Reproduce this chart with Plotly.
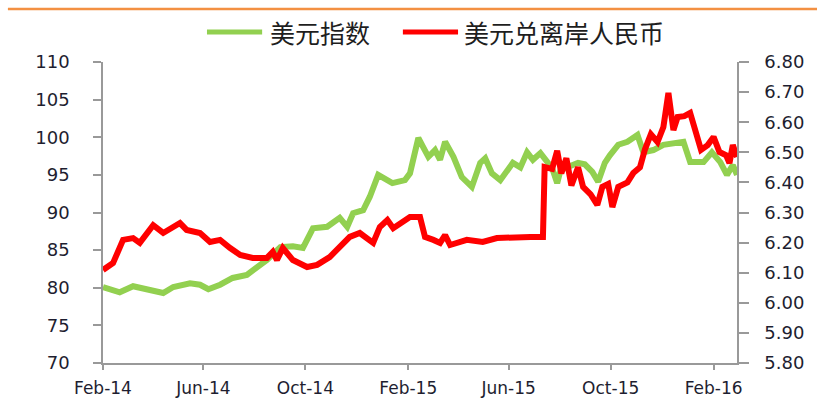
import plotly.graph_objects as go

# ---- data ----
dxy_dates = ["2014-02-01","2014-02-21","2014-03-09","2014-03-29","2014-04-14","2014-04-26","2014-05-16",
             "2014-05-28","2014-06-07","2014-06-21","2014-07-06","2014-07-23","2014-08-04","2014-08-16",
             "2014-09-01","2014-09-16","2014-09-28","2014-10-10","2014-10-27","2014-11-11","2014-11-20",
             "2014-11-27","2014-12-09","2014-12-17","2014-12-27","2015-01-13","2015-01-28","2015-02-03",
             "2015-02-13","2015-02-25","2015-03-05","2015-03-11","2015-03-17","2015-03-27","2015-04-06",
             "2015-04-18","2015-04-28","2015-05-04","2015-05-12","2015-05-22","2015-06-06","2015-06-15",
             "2015-06-23","2015-06-30","2015-07-09","2015-07-18","2015-07-23","2015-07-29","2015-08-02",
             "2015-08-10","2015-08-23","2015-08-31","2015-09-09","2015-09-16","2015-09-24","2015-09-30",
             "2015-10-10","2015-10-21","2015-11-02","2015-11-09","2015-11-21","2015-12-03","2015-12-11",
             "2015-12-27","2016-01-04","2016-01-20","2016-01-30","2016-02-09","2016-02-17","2016-02-24",
             "2016-02-29"]
dxy_values = [80.1,79.4,80.2,79.8,79.3,80.1,80.6,
              80.4,79.8,80.4,81.3,81.7,82.6,83.7,
              85.4,85.5,85.3,87.9,88.1,89.3,88.1,
              89.9,90.3,92.1,95.0,93.9,94.3,95.2,
              99.9,97.4,98.3,97.0,99.4,97.4,94.7,
              93.4,96.6,97.2,95.2,94.3,96.6,96.0,
              98.0,97.0,97.9,96.7,95.9,93.9,95.6,
              96.0,96.6,96.4,95.4,94.1,96.6,97.6,
              99.0,99.4,100.3,98.0,98.3,99.0,99.2,
              99.4,96.7,96.7,98.0,96.7,95.0,96.3,
              95.0]

cnh_dates = ["2014-02-01","2014-02-13","2014-02-25","2014-03-09","2014-03-17","2014-04-02","2014-04-14",
             "2014-05-04","2014-05-12","2014-05-28","2014-06-09","2014-06-21","2014-07-03","2014-07-15",
             "2014-07-30","2014-08-16","2014-08-23","2014-08-28","2014-09-04","2014-09-16","2014-10-03",
             "2014-10-15","2014-10-30","2014-11-15","2014-11-23","2014-12-05","2014-12-21","2014-12-29",
             "2015-01-07","2015-01-14","2015-01-22","2015-02-03","2015-02-15","2015-02-21","2015-03-03",
             "2015-03-11","2015-03-17","2015-03-23","2015-04-12","2015-05-01","2015-05-18","2015-06-06",
             "2015-06-27","2015-07-12","2015-07-14","2015-07-23","2015-07-29","2015-08-03","2015-08-09",
             "2015-08-15","2015-08-23","2015-08-29","2015-09-07","2015-09-15","2015-09-21","2015-09-28",
             "2015-10-03","2015-10-10","2015-10-21","2015-10-28","2015-11-05","2015-11-11","2015-11-18",
             "2015-11-26","2015-12-03","2015-12-09","2015-12-15","2015-12-20","2015-12-28","2016-01-04",
             "2016-01-09","2016-01-17","2016-01-25","2016-02-01","2016-02-08","2016-02-16","2016-02-20",
             "2016-02-24","2016-02-29"]
cnh_values = [6.109,6.132,6.209,6.215,6.199,6.258,6.232,
              6.265,6.242,6.232,6.202,6.209,6.182,6.159,
              6.149,6.149,6.169,6.142,6.182,6.142,6.119,
              6.126,6.152,6.199,6.219,6.232,6.199,6.252,
              6.275,6.248,6.265,6.285,6.285,6.219,6.209,
              6.199,6.225,6.192,6.209,6.202,6.215,6.219,
              6.219,6.219,6.451,6.445,6.505,6.430,6.480,
              6.390,6.450,6.385,6.360,6.325,6.385,6.395,
              6.318,6.385,6.400,6.431,6.450,6.510,6.560,
              6.534,6.584,6.697,6.574,6.617,6.620,6.631,
              6.584,6.508,6.524,6.551,6.501,6.490,6.464,
              6.524,6.484]

series_names = ["美元指数", "美元兑离岸人民币"]
series_colors = ["#92d050", "#ff0000"]

x_tick_vals = ["2014-02-01","2014-06-01","2014-10-01","2015-02-01","2015-06-01","2015-10-01","2016-02-01"]
x_tick_text = ["Feb-14","Jun-14","Oct-14","Feb-15","Jun-15","Oct-15","Feb-16"]

# ---- figure ----
fig = go.Figure()
fig.add_trace(go.Scatter(x=dxy_dates, y=dxy_values, name=series_names[0], mode="lines",
                         line=dict(color=series_colors[0], width=6), yaxis="y", showlegend=False))
fig.add_trace(go.Scatter(x=cnh_dates, y=cnh_values, name=series_names[1], mode="lines",
                         line=dict(color=series_colors[1], width=6), yaxis="y2", showlegend=False))

axis_color = "#999999"
tick_font = dict(family="DejaVu Sans", size=18, color="#1e1e30")

fig.update_layout(
    width=817, height=416,
    margin=dict(l=103, r=80, t=62, b=53),
    paper_bgcolor="white", plot_bgcolor="white",
    xaxis=dict(type="date", range=["2014-02-01", "2016-02-29"],
               tickvals=x_tick_vals, ticktext=x_tick_text,
               showgrid=False, zeroline=False, showline=True, linecolor=axis_color, linewidth=1.5,
               ticks="outside", ticklen=5, tickcolor=axis_color, tickwidth=1.5,
               tickfont=dict(family="DejaVu Sans", size=17, color="#1e1e30"), ticklabelstandoff=4),
    yaxis=dict(range=[70, 110], dtick=5, tick0=70, showgrid=False, zeroline=False,
               showline=True, linecolor=axis_color, linewidth=1.5,
               ticks="outside", ticklen=8, tickcolor=axis_color, tickwidth=1.5,
               tickfont=tick_font, ticklabelstandoff=20),
    yaxis2=dict(range=[5.8, 6.8], dtick=0.1, tick0=5.8, tickformat=".2f", overlaying="y", side="right",
                showgrid=False, zeroline=False, showline=True, linecolor=axis_color, linewidth=1.5,
                ticks="outside", ticklen=10, tickcolor=axis_color, tickwidth=1.5,
                tickfont=tick_font, ticklabelstandoff=12),
)

# top orange rule
fig.add_shape(type="line", xref="paper", yref="paper", x0=-0.15, x1=1.13, y0=1.176, y1=1.176,
              line=dict(color="#f39042", width=2.5))

# manual legend
legend_y = 1.0997
legend_items = [(0.164, 0.251, 0.260), (0.473, 0.560, 0.566)]
for (lx0, lx1, tx), name, color in zip(legend_items, series_names, series_colors):
    fig.add_shape(type="line", xref="paper", yref="paper", x0=lx0, x1=lx1, y0=legend_y, y1=legend_y,
                  line=dict(color=color, width=5))
    fig.add_annotation(xref="paper", yref="paper", x=tx, y=legend_y, text=name, showarrow=False,
                       xanchor="left", yanchor="middle",
                       font=dict(family="Noto Sans CJK SC", size=25, color="#1e1e1e"))

fig.write_html("out.html")
